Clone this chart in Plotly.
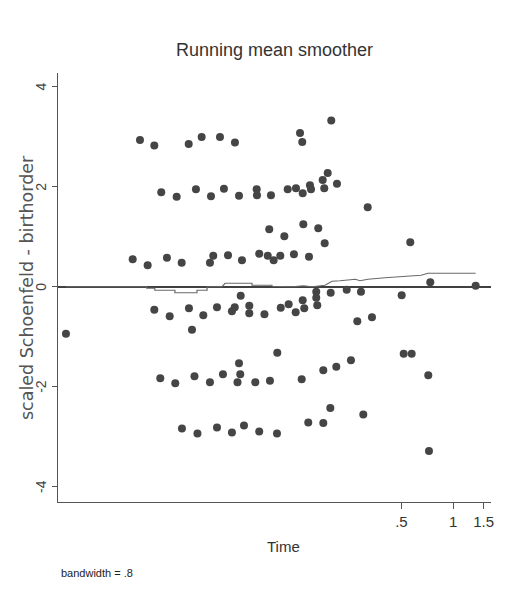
import plotly.graph_objects as go

# ---- data ----
# scaled Schoenfeld residuals (time, residual)
time = [
    0.01517, 0.01837, 0.0291, 0.0346, 0.0442, 0.0540, 0.1289, 0.1328, 0.1957,
    0.02016, 0.02477, 0.03206, 0.0392, 0.0466, 0.0570, 0.0722, 0.0725, 0.0874,
    0.1093, 0.1221, 0.1336, 0.1472, 0.1493, 0.1745, 0.1866, 0.1782, 0.2112, 0.3185,
    0.01376, 0.01681, 0.02175, 0.02649, 0.03866, 0.0404, 0.0492, 0.0593, 0.0747,
    0.0837, 0.0906, 0.0990, 0.1188, 0.1453, 0.0854, 0.1045, 0.1347, 0.1645, 0.1792,
    0.5627, 0.7353, 1.349,
    0.005639, 0.01837, 0.02257, 0.0292, 0.0304, 0.03537, 0.04247, 0.05186, 0.05383,
    0.05831, 0.06541, 0.0654, 0.0801, 0.0996, 0.1107, 0.1216, 0.1336, 0.1364,
    0.1601, 0.1601, 0.1623, 0.1942, 0.2405, 0.2911, 0.5016, 0.2772, 0.3372,
    0.0199, 0.02431, 0.03143, 0.03866, 0.0460, 0.05586, 0.0570, 0.05796, 0.07087,
    0.08621, 0.0951, 0.1318, 0.1759, 0.2093, 0.2546, 0.5153, 0.5735, 0.7159,
    0.02659, 0.03271, 0.04247, 0.05186, 0.06093, 0.0747, 0.0947, 0.1439, 0.1759,
    0.1932, 0.3003, 0.7225,
]
resid = [
    2.93, 2.82, 2.85, 2.99, 2.99, 2.88, 3.07, 2.89, 3.32,
    1.89, 1.80, 1.95, 1.81, 1.96, 1.82, 1.95, 1.83, 1.83,
    1.95, 1.97, 1.87, 2.03, 1.95, 2.13, 2.27, 1.97, 2.06, 1.59,
    0.55, 0.43, 0.58, 0.48, 0.48, 0.62, 0.63, 0.53, 0.66,
    0.62, 0.53, 0.62, 0.65, 0.60, 1.15, 1.01, 1.25, 1.17, 0.87,
    0.89, 0.09, 0.02,
    -0.94, -0.46, -0.59, -0.43, -0.86, -0.57, -0.41, -0.49, -0.41,
    -0.18, -0.38, -0.53, -0.55, -0.42, -0.35, -0.51, -0.27, -0.43,
    -0.10, -0.22, -0.37, -0.12, -0.06, -0.10, -0.17, -0.69, -0.61,
    -1.83, -1.93, -1.79, -1.91, -1.75, -1.91, -1.53, -1.75, -1.91,
    -1.88, -1.32, -1.85, -1.67, -1.60, -1.47, -1.34, -1.34, -1.77,
    -2.83, -2.93, -2.81, -2.91, -2.77, -2.89, -2.93, -2.71, -2.72,
    -2.42, -2.55, -3.28,
]

# running mean smoother (time, value)
smooth_time = [0.00564, 0.0166, 0.0166, 0.0185, 0.0185, 0.0242, 0.0242, 0.0325,
               0.0325, 0.0372, 0.0372, 0.0454, 0.0473, 0.0678, 0.0678, 0.0886,
               0.0886, 0.1158, 0.1350, 0.1512, 0.1800, 0.1976, 0.2200, 0.2513,
               0.2700, 0.2873, 0.3197, 0.4013, 0.5243, 0.6500, 0.7130, 1.349]
smooth_value = [0.0, 0.0, -0.03, -0.03, -0.07, -0.07, -0.12, -0.12,
                -0.07, -0.07, 0.0, 0.0, 0.07, 0.07, 0.03, 0.03,
                0.01, 0.0, 0.02, 0.0, 0.03, 0.11, 0.12, 0.14,
                0.15, 0.12, 0.15, 0.18, 0.21, 0.23, 0.27, 0.27]

x_tickvals = [0.5, 1, 1.5]
x_ticktext = [".5", "1", "1.5"]
y_tickvals = [-4, -2, 0, 2, 4]
y_ticktext = ["-4", "-2", "0", "2", "4"]

SANS = "Liberation Sans, Arial, sans-serif"

# the page body adds an 8px offset; lay out in page pixels minus that offset
OFF = 8
W, H = 505 - OFF, 596 - OFF
PL, PR, PT, PB = 58 - OFF, 491 - OFF, 73 - OFF, 502 - OFF
PW, PH = PR - PL, PB - PT


def px(x):
    return (x - OFF - PL) / PW


def py(y):
    return (PB - (y - OFF)) / PH


fig = go.Figure()
fig.add_trace(go.Scatter(
    x=time, y=resid, mode="markers",
    marker=dict(size=8, color="#454545", line=dict(width=0)),
    showlegend=False, hoverinfo="skip",
))
fig.add_trace(go.Scatter(
    x=smooth_time, y=smooth_value, mode="lines",
    line=dict(color="#6a6a6a", width=1.2),
    showlegend=False, hoverinfo="skip",
))

annotations = [
    dict(text="Running mean smoother", xref="paper", yref="paper",
         x=0.5, y=py(50), xanchor="center", yanchor="middle", showarrow=False,
         font=dict(family=SANS, size=18, color="#333333")),
    dict(text="scaled Schoenfeld - birthorder", xref="paper", yref="paper",
         x=px(27), y=py(288), xanchor="center", yanchor="middle",
         textangle=-90, showarrow=False,
         font=dict(family="DejaVu Sans, sans-serif", size=17.5, color="#555555")),
    dict(text="Time", xref="paper", yref="paper",
         x=px(283), y=py(546), xanchor="center", yanchor="middle", showarrow=False,
         font=dict(family=SANS, size=15, color="#333333")),
    dict(text="bandwidth = .8", xref="paper", yref="paper",
         x=px(59), y=py(573), xanchor="left", yanchor="middle", showarrow=False,
         font=dict(family=SANS, size=11, color="#222222")),
]
# rotated y tick labels, placed at the tick values
for v, t in zip(y_tickvals, y_ticktext):
    annotations.append(dict(
        text=t, xref="paper", yref="y", x=px(41), y=v,
        xanchor="center", yanchor="middle", textangle=-90, showarrow=False,
        font=dict(family=SANS, size=14, color="#444444")))

fig.update_layout(
    width=W, height=H,
    paper_bgcolor="white", plot_bgcolor="white",
    margin=dict(l=PL, r=W - PR, t=PT, b=H - PB),
    font=dict(family=SANS, color="#333333"),
    annotations=annotations,
)
fig.update_xaxes(
    type="log", range=[-2.295, 0.219], automargin=False,
    tickvals=x_tickvals, ticktext=x_ticktext,
    ticks="outside", ticklen=6, tickcolor="#555555",
    tickfont=dict(family=SANS, size=15, color="#333333"),
    showline=True, linecolor="#555555", linewidth=1,
    showgrid=False, zeroline=False, mirror=False,
)
fig.update_yaxes(
    range=[-4.3, 4.27], automargin=False,
    tickvals=y_tickvals, showticklabels=False,
    ticks="outside", ticklen=5, tickcolor="#555555",
    showline=True, linecolor="#555555", linewidth=1,
    showgrid=False, zeroline=True, zerolinecolor="#404040", zerolinewidth=2,
)

fig.write_html("out.html")
